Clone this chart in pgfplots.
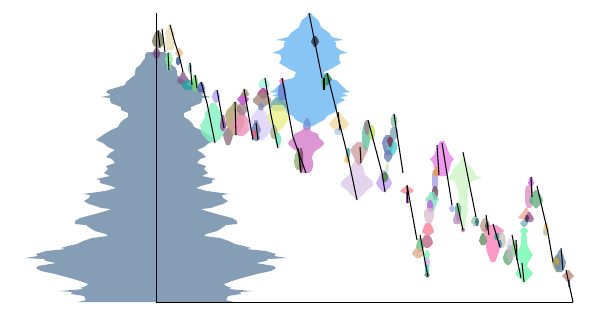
\documentclass[border=0pt]{standalone}
\usepackage{pgfplots}
\pgfplotsset{compat=1.18}
\newcommand\blob[4][.8]{%
  \gdef\blobR{}\gdef\blobL{}%
  \foreach \y/\w in {#4}{%
    \pgfmathsetmacro\a{#3+\w}\pgfmathsetmacro\b{#3-\w}%
    \xdef\blobR{\blobR (\a,\y)}\xdef\blobL{(\b,\y) \blobL}%
  }%
  \edef\blobT{\noexpand\addplot[fill={#2},draw=none,fill opacity=#1] coordinates {\blobR\space\blobL} -- cycle;}%
  \blobT
}
\newcommand\br[1]{\addplot[black,line width=1.05pt] coordinates {#1};}
\begin{document}
\begin{tikzpicture}
\useasboundingbox (0,0) rectangle (597pt,316pt);
\begin{axis}[at={(0,0)},anchor=south west,scale only axis,width=597pt,height=316pt,
  xmin=0,xmax=597,ymin=0,ymax=316,y dir=reverse,hide axis,clip=false]
% grey distribution
\blob[1]{rgb,255:red,133;green,158;blue,181}{156}{52/8,53/10,55/11,58/11,62/14,65/16,68/20,72/21,75/21,78/25,82/30,85/31,88/41,90/48,92/50,95/45,97/55,98/46,100/46,103/45,107/35,110/35,113/28,117/28,120/33,123/36,127/38,130/45,133/50,137/56,140/60,143/53,147/48,150/41,153/46,157/50,159/44,163/41,166/50,169/48,173/52,176/46,179/60,180/56,183/56,186/45,188/40,191/51,194/73,195/66,198/67,201/72,204/67,206/60,208/55,209/45,211/50,214/61,218/76,221/81,224/81,225/70,228/66,231/61,234/50,236/48,238/64,241/73,244/79,246/88,248/95,249/90,251/110,254/120,256/118,258/131,259/112,261/110,263/100,264/106,266/118,268/120,271/115,274/101,278/86,281/76,284/68,286/70,288/76,289/72,291/96,292/84,294/85,296/72,298/71,300/70,302/78}
% big blue
\blob[1]{rgb,255:red,136;green,197;blue,245}{310}{13/1,16/3,20/8,24/10,27/11,30/15,33/19,37/22,40/34,41/24,43/26,47/26,50/30,53/38,54/30,57/29,60/29,63/31,66/26,69/21,72/14,75/15,78/16,80/26,84/30,87/33,90/36,92/40,93/32,96/38,97/30,100/35,104/27,108/27,112/25,116/17,120/14,123/8,126/3}
% upper left group
\blob{rgb,255:red,120;green,120;blue,85}{158}{30/1,33/3,37/5,41/6,45/5,48/2}
\blob{rgb,255:red,120;green,75;blue,125}{156.5}{48/1,51/3,54/4,58/2}
\blob{rgb,255:red,232;green,222;blue,184}{170}{25/1,29/3,33/5,38/4,44/5,50/3}
\blob{rgb,255:red,135;green,240;blue,160}{169}{52/1,56/3,60/4,65/2,70/2}
\blob{rgb,255:red,240;green,190;blue,130}{179}{48/1,51/3,54/4,57/1}
\blob{rgb,255:red,50;green,90;blue,160}{178}{57/1,60/2,63/2,65/1}
\blob{rgb,255:red,150;green,200;blue,190}{190}{63/1,66/2,70/2,73/1}
\blob{rgb,255:red,135;green,90;blue,135}{183}{72/1,76/3,80/6,83/5,85/1}
\blob{rgb,255:red,40;green,160;blue,160}{188}{80/2,83/6,87/6,90/3}
\blob{rgb,255:red,110;green,210;blue,110}{195}{75/1,80/3,85/3,89/3,92/1}
\blob{rgb,255:red,80;green,95;blue,175}{201}{82/1,85/3,89/4,92/2}
\blob{rgb,255:red,176;green,160;blue,240}{216}{90/1,93/3,97/4,100/3,103/1}
\blob{rgb,255:red,128;green,240;blue,192}{213}{103/2,106/4,110/6,113/8,117/8,121/10,125/13,129/12,133/12,136/9,139/7,142/3}
\blob{rgb,255:red,155;green,80;blue,160}{223}{115/1,119/2,124/3,128/3,131/1}
\blob{rgb,255:red,145;green,112;blue,128}{228}{128/1,131/3,135/5,139/4,142/3,145/2}
\blob{rgb,255:red,172;green,157;blue,109}{235}{102/1,106/4,110/8,115/10,120/9,125/9,130/6,135/2}
\blob{rgb,255:red,240;green,144;blue,184}{241}{113/2,117/6,121/8,125/10,129/9,133/6,136/2}
\blob{rgb,255:red,192;green,64;blue,208}{243}{93/1,96/3,99/6,102/4,105/1}
\blob{rgb,255:red,160;green,144;blue,112}{245}{89/1,92/3,95/4,97/1}
\blob{rgb,255:red,160;green,128;blue,144}{242}{103/2,107/5,111/5,115/2}
\blob{rgb,255:red,220;green,208;blue,250}{260}{108/2,112/5,116/8,120/10,124/12,128/12,132/10,136/7,140/3}
\blob{rgb,255:red,112;green,128;blue,176}{256}{120/1,125/3,130/5,134/3,138/4,141/1}
\blob{rgb,255:red,224;green,96;blue,128}{254}{130/1,133/3,136/2,138/1}
\blob{rgb,255:red,160;green,240;blue,224}{264}{78/1,81/4,85/6,88/4,90/1}
\blob{rgb,255:red,176;green,48;blue,144}{263}{88/1,91/4,94/6,97/3,99/1}
\blob{rgb,255:red,160;green,136;blue,120}{262}{92/2,96/6,99/9,102/9,105/5,107/2}
\blob{rgb,255:red,128;green,136;blue,192}{261}{103/1,106/3,110/2}
\blob{rgb,255:red,106;green,168;blue,160}{278}{97/2,100/5,104/8,108/8,111/4}
\blob{rgb,255:red,234;green,240;blue,138}{278}{105/5,109/8,113/9,117/11,121/9,125/7,129/4,131/1}
\blob{rgb,255:red,106;green,128;blue,208}{282}{83/1,86/3,90/4,95/4,100/3}
\blob{rgb,255:red,240;green,112;blue,192}{282}{78/1,81/3,83/2}
\blob{rgb,255:red,160;green,176;blue,128}{274}{125/1,129/3,133/4,137/3,139/1}
\blob{rgb,255:red,96;green,232;blue,192}{278}{133/1,137/3,141/3,145/2,147/1}
\blob{rgb,255:red,248;green,232;blue,224}{278}{145/1,147/3,150/1}
% orchid, centre
\blob{rgb,255:red,48;green,48;blue,64}{315}{36/1,39/3,42/4,45/2,47/1}
\blob{rgb,255:red,32;green,128;blue,80}{327}{73/1,76/3,79/5,82/3,85/1}
\blob{rgb,255:red,64;green,176;blue,128}{324}{77/1,81/3,86/2,90/1}
\blob{rgb,255:red,112;green,144;blue,208}{307}{118/1,122/3,126/4,130/3}
\blob{rgb,255:red,210;green,124;blue,200}{306}{128/2,131/5,134/12,138/13,141/17,144/18,148/14,151/9,154/7,158/6,162/7,166/7,170/6,173/3}
\blob{rgb,255:red,144;green,176;blue,112}{298}{150/1,155/3,162/4,167/3,170/1}
\blob{rgb,255:red,128;green,64;blue,96}{301}{148/1,154/2,162/2,168/2,172/1}
\blob{rgb,255:red,240;green,216;blue,160}{339}{112/1,116/3,120/7,124/10,127/8,130/4,132/1}
\blob{rgb,255:red,176;green,200;blue,232}{338}{128/1,131/4,134/3,135/1}
\blob{rgb,255:red,64;green,160;blue,160}{348}{148/1,151/2,155/2,160/1}
\blob{rgb,255:red,240;green,192;blue,96}{347}{155/1,158/2,161/3,163/1}
\blob{rgb,255:red,220;green,200;blue,232}{357}{160/2,165/5,170/7,175/8,178/12,182/16,186/16,190/10,194/7,197/3,200/1}
\blob{rgb,255:red,208;green,160;blue,160}{359}{142/2,146/6,150/9,154/7,158/5,162/3,165/1}
\blob{rgb,255:red,96;green,192;blue,160}{366}{122/1,127/3,133/4,140/4,146/3,150/1}
\blob{rgb,255:red,160;green,128;blue,144}{367}{120/1,124/3,129/3,135/1}
\blob{rgb,255:red,192;green,224;blue,96}{372}{125/1,130/3,135/3,140/1}
\blob{rgb,255:red,192;green,160;blue,240}{384}{170/1,175/4,179/6,183/8,187/6,190/3,192/1}
\blob{rgb,255:red,64;green,128;blue,64}{385}{172/1,175/3,179/3,182/1}
\blob{rgb,255:red,208;green,232;blue,192}{387}{163/1,167/2,172/1}
\blob{rgb,255:red,128;green,192;blue,160}{394}{114/1,118/3,124/3,127/1}
\blob{rgb,255:red,128;green,168;blue,184}{394}{127/2,131/4,136/4,140/1}
\blob{rgb,255:red,104;green,120;blue,176}{388}{135/2,139/5,143/6,147/5,151/4,155/2}
\blob{rgb,255:red,80;green,208;blue,208}{392}{140/2,144/5,149/5,153/3,156/1}
\blob{rgb,255:red,128;green,48;blue,64}{390}{137/1,140/3,144/2,147/1}
\blob{rgb,255:red,112;green,128;blue,176}{388}{150/2,154/4,158/4,162/1}
\blob{rgb,255:red,248;green,144;blue,152}{407}{186/1,189/5,191/7,193/4,194/1}
\blob{rgb,255:red,144;green,0;blue,144}{407}{192/1,198/1,203/1}
% right part
\blob{rgb,255:red,232;green,128;blue,232}{442}{141/2,145/4,150/6,155/8,159/12,163/9,167/8,171/7,176/5}
\blob{rgb,255:red,168;green,160;blue,224}{435}{170/2,175/3,180/3,185/3,190/2}
\blob{rgb,255:red,240;green,160;blue,64}{436}{167/1,170/2,173/3,176/2}
\blob{rgb,255:red,112;green,80;blue,96}{435}{186/1,190/3,194/3,198/2,200/1}
\blob{rgb,255:red,128;green,224;blue,192}{432}{192/2,196/4,199/7,202/5,207/3,212/2}
\blob{rgb,255:red,192;green,96;blue,224}{430}{200/1,204/3,208/3,212/1}
\blob{rgb,255:red,220;green,192;blue,208}{429}{208/2,212/5,216/5,220/4,223/2}
\blob{rgb,255:red,248;green,128;blue,152}{428}{223/2,226/4,229/5,232/6,235/2}
\blob{rgb,255:red,192;green,104;blue,136}{427}{235/2,239/5,243/6,246/4,248/1}
\blob{rgb,255:red,96;green,192;blue,128}{420}{238/1,242/3,247/4,252/2}
\blob{rgb,255:red,224;green,176;blue,144}{418}{248/2,251/5,254/6,258/2}
\blob{rgb,255:red,128;green,240;blue,192}{427}{250/1,254/3,258/2}
\blob{rgb,255:red,200;green,176;blue,232}{427}{258/2,262/3,268/2}
\blob{rgb,255:red,48;green,224;blue,176}{427}{265/1,270/2,275/2,277/1}
\blob{rgb,255:red,128;green,128;blue,128}{427}{273/1,275/3,277/1}
\blob[.9]{rgb,255:red,212;green,246;blue,204}{463}{155/1,160/2,164/5,167/8,171/11,175/12,178/19,181/9,185/7,190/5,194/5,198/4,202/5,206/4,210/5,215/4,220/3,225/3,230/1}
\blob{rgb,255:red,160;green,176;blue,240}{452}{205/1,208/3,211/2,212/1}
\blob{rgb,255:red,80;green,176;blue,128}{458}{203/1,207/3,212/3,218/2,222/1}
\blob{rgb,255:red,192;green,144;blue,192}{457}{212/1,216/3,220/4,224/3}
\blob{rgb,255:red,176;green,96;blue,128}{463}{228/1,230/2,232/1}
\blob{rgb,255:red,144;green,200;blue,160}{475}{216/1,219/3,222/4,226/1}
\blob{rgb,255:red,48;green,96;blue,128}{477}{218/1,222/2,226/1}
\blob{rgb,255:red,248;green,128;blue,184}{493}{225/3,229/9,231/11,235/7,241/7,247/7,252/6,257/4,262/2}
\blob{rgb,255:red,184;green,160;blue,136}{485}{218/1,222/4,226/5,230/4,232/1}
\blob{rgb,255:red,96;green,64;blue,96}{487}{222/1,226/2,230/1}
\blob{rgb,255:red,96;green,144;blue,96}{483}{233/1,237/3,241/4,245/2}
\blob{rgb,255:red,64;green,160;blue,160}{497}{233/1,236/3,240/2}
\blob{rgb,255:red,200;green,200;blue,184}{502}{232/1,236/3,241/4,245/3,248/1}
\blob{rgb,255:red,80;green,128;blue,192}{500}{240/1,244/2,248/1}
\blob{rgb,255:red,224;green,216;blue,232}{510}{238/1,242/3,247/4,252/3,258/2}
\blob{rgb,255:red,96;green,176;blue,112}{508}{250/2,254/4,258/5,262/4,265/1}
\blob{rgb,255:red,184;green,184;blue,192}{510}{245/1,250/3,255/4,259/3,262/1}
\blob{rgb,255:red,144;green,208;blue,144}{515}{240/1,245/3,250/3,257/1}
\blob[.9]{rgb,255:red,128;green,248;blue,184}{524}{228/2,231/4,234/2,239/3,243/3,247/4,251/6,255/9,259/6,263/4,267/3,270/6,273/9,276/7,279/4,282/1}
\blob{rgb,255:red,128;green,176;blue,192}{524}{220/1,223/4,225/3,227/1}
\blob{rgb,255:red,240;green,168;blue,152}{526}{208/1,212/3,215/6,218/8,220/1}
\blob{rgb,255:red,160;green,96;blue,160}{529}{212/1,216/3,219/5,222/3}
\blob{rgb,255:red,64;green,48;blue,80}{527}{215/1,218/2,222/1}
\blob{rgb,255:red,208;green,96;blue,224}{531}{177/1,180/2,183/3,186/2}
\blob{rgb,255:red,224;green,144;blue,192}{529}{186/3,191/4,196/4,202/4,208/2}
\blob{rgb,255:red,96;green,176;blue,128}{536}{190/1,194/4,198/6,201/7,205/4,208/1}
\blob{rgb,255:red,240;green,192;blue,96}{546}{223/1,226/2,230/3,233/2,236/1}
\blob{rgb,255:red,160;green,208;blue,224}{545}{230/1,233/2,235/1}
\blob{rgb,255:red,144;green,160;blue,96}{557}{255/1,259/4,263/5,268/3,272/1}
\blob{rgb,255:red,104;green,136;blue,168}{560}{250/1,254/3,258/4,262/6,267/5,272/2}
\blob{rgb,255:red,224;green,160;blue,48}{557}{258/1,261/2,265/1}
\blob{rgb,255:red,192;green,136;blue,120}{568}{270/1,273/3,276/6,279/3,282/1}
\blob{rgb,255:red,64;green,80;blue,160}{569}{280/1,284/1,287/1}
% axis lines
\addplot[black!90!blue,line width=1pt] coordinates {(156,13) (156,302)};
\addplot[black,line width=1pt] coordinates {(156,302.3) (573,302.3)};
% branches
\br{(158,31) (160,47)}
\br{(162,29) (165,52)}
\br{(170,25) (175,43) (179,55) (183,72)}
\br{(168,53) (169,70)}
\br{(190,63) (192,85)}
\br{(195,75) (197,88)}
\br{(201,82) (207,103) (215,143)}
\br{(217,90) (224,128)}
\br{(235,102) (236,135)}
\br{(244,89) (253,140)}
\br{(256,123) (258,140)}
\br{(265,78) (271,115) (278,148)}
\br{(282,78) (293,137) (306,173)}
\br{(298,148) (301,173)}
\br{(309,13) (322,78)}
\br{(324,78) (324,90)}
\br{(327,73) (337,113) (348,157) (357,200)}
\br{(338,112) (340,130)}
\br{(360,147) (361,163)}
\br{(368,120) (382,173) (385,192)}
\br{(394,114) (403,173)}
\br{(407,185) (417,240)}
\br{(407,186) (408,203)}
\br{(420,235) (428,277)}
\br{(437,145) (439,175)}
\br{(442,143) (452,205)}
\br{(463,152) (476,217)}
\br{(457,203) (463,230)}
\br{(486,215) (489,235)}
\br{(493,224) (500,247)}
\br{(512,235) (521,278)}
\br{(516,240) (517,260)}
\br{(522,263) (524,282)}
\br{(531,177) (532,197)}
\br{(537,186) (548,233) (553,262)}
\br{(561,248) (563,270)}
\br{(566,270) (573,302)}
\end{axis}
\end{tikzpicture}
\end{document}
